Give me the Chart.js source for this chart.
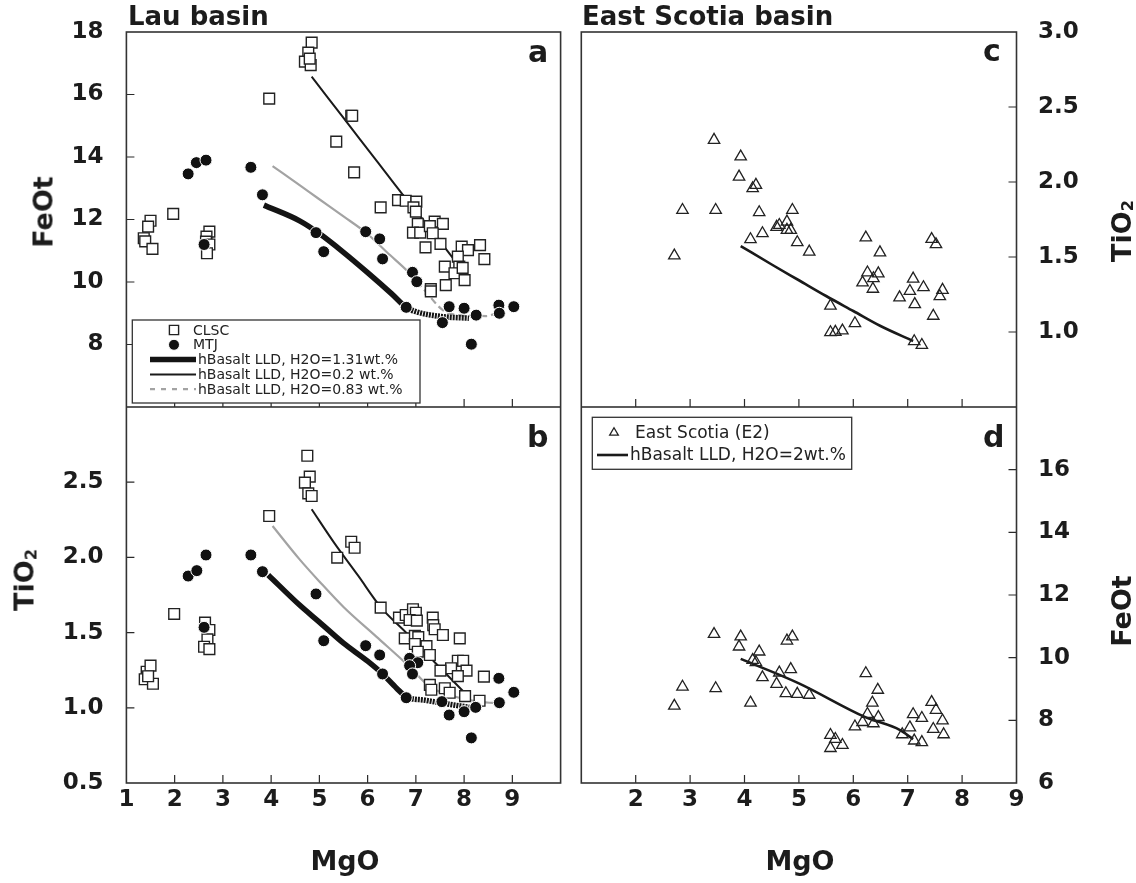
<!DOCTYPE html>
<html>
<head>
<meta charset="utf-8">
<title>Lau basin / East Scotia basin</title>
<script src="https://cdn.jsdelivr.net/npm/chart.js@4.4.1/dist/chart.umd.min.js"></script>
<style>
  body { margin: 0; background: #fff; }
  #page { position: relative; width: 1136px; height: 883px; overflow: hidden;
          font-family: "DejaVu Sans", Verdana, sans-serif; color: #1c1c1c; }
  #page canvas { position: absolute; }
  .txt { position: absolute; font-weight: bold; line-height: 1; white-space: nowrap; }
  .rot { transform: translate(-50%, -50%) rotate(-90deg); }
  .ctr { transform: translate(-50%, -50%); }
  .txt sub { font-size: 60%; vertical-align: -0.18em; line-height: 0; }
</style>
</head>
<body>
<div id="page">
  <canvas id="panelA" width="570" height="407" style="left:0;top:0"></canvas>
  <canvas id="panelB" width="570" height="476" style="left:0;top:407px"></canvas>
  <canvas id="panelC" width="566" height="407" style="left:570px;top:0"></canvas>
  <canvas id="panelD" width="566" height="476" style="left:570px;top:407px"></canvas>

  <div class="txt" style="left:128px;top:3px;font-size:26px">Lau basin</div>
  <div class="txt" style="left:582px;top:3px;font-size:26px">East Scotia basin</div>

  <div class="txt" style="left:528px;top:37px;font-size:30px">a</div>
  <div class="txt" style="left:527px;top:422px;font-size:30px">b</div>
  <div class="txt" style="left:983px;top:36px;font-size:30px">c</div>
  <div class="txt" style="left:983px;top:422px;font-size:30px">d</div>

  <div class="txt rot" style="left:43px;top:212px;font-size:27px">FeOt</div>
  <div class="txt rot" style="left:24px;top:580px;font-size:27px">TiO<sub>2</sub></div>
  <div class="txt rot" style="left:1121px;top:231px;font-size:27px">TiO<sub>2</sub></div>
  <div class="txt rot" style="left:1121px;top:611px;font-size:27px">FeOt</div>
  <div class="txt ctr" style="left:345px;top:860px;font-size:27px">MgO</div>
  <div class="txt ctr" style="left:800px;top:860px;font-size:27px">MgO</div>
</div>

<script>
// ---- data: [MgO, value] ----
// (a) Lau basin, FeOt
const clscFeOt = [
  [4.84, 17.66], [4.77, 17.34], [4.70, 17.05], [4.82, 16.94], [4.80, 17.15],
  [3.96, 15.87], [5.66, 15.32], [5.68, 15.32], [5.35, 14.49], [5.72, 13.51],
  [6.27, 12.39], [6.63, 12.62], [6.79, 12.60], [7.01, 12.57], [6.95, 12.39],
  [7.00, 12.25], [7.04, 11.86], [6.94, 11.58], [7.09, 11.58], [7.39, 11.93],
  [7.56, 11.86], [7.29, 11.79], [7.35, 11.56], [7.20, 11.11], [7.51, 11.22],
  [7.95, 11.13], [8.08, 11.02], [8.33, 11.18], [8.42, 10.73], [7.87, 10.81],
  [7.60, 10.49], [7.90, 10.49], [7.80, 10.28], [7.97, 10.45], [8.01, 10.06],
  [7.62, 9.90], [7.31, 9.77], [7.31, 9.70],
  [1.50, 11.96], [1.97, 12.18], [1.45, 11.77], [1.36, 11.40], [1.39, 11.30],
  [1.54, 11.06], [2.72, 11.61], [2.66, 11.45], [2.65, 11.29], [2.72, 11.20], [2.67, 10.92]
];
const mtjFeOt = [
  [2.28, 13.46], [2.45, 13.82], [2.65, 13.90], [3.58, 13.67], [3.82, 12.79], [2.61, 11.20],
  [4.93, 11.58], [5.09, 10.97], [5.96, 11.61], [6.25, 11.38], [6.31, 10.74], [6.93, 10.31],
  [7.02, 10.01], [6.80, 9.19], [7.69, 9.21], [8.00, 9.16], [7.55, 8.70], [8.25, 8.94],
  [8.15, 8.01], [8.72, 9.26], [8.73, 9.00], [9.03, 9.21]
];
const lld131FeOt = [
  [3.85, 12.46], [4.6, 11.95], [5.0, 11.55], [5.5, 10.95], [6.0, 10.3], [6.5, 9.62],
  [6.8, 9.19], [7.0, 9.05], [7.5, 8.9], [8.1, 8.84]
];
const lld02FeOt = [
  [4.84, 16.57], [5.5, 15.25], [6.2, 13.85], [6.75, 12.75], [7.2, 11.9], [7.85, 10.6]
];
const lld083FeOt = [
  [4.03, 13.71], [4.59, 13.1], [4.97, 12.68], [5.5, 12.1], [5.98, 11.56], [6.4, 10.95],
  [6.87, 10.28], [7.2, 9.7], [7.56, 9.1], [7.87, 8.94], [8.2, 8.92], [8.46, 8.91], [8.73, 9.05]
];

// (b) Lau basin, TiO2
const clscTiO2 = [
  [4.75, 2.676], [4.80, 2.537], [4.70, 2.497], [4.77, 2.426], [4.84, 2.408], [3.96, 2.275],
  [5.66, 2.104], [5.73, 2.064], [5.37, 1.998], [1.99, 1.624], [2.63, 1.566], [2.72, 1.517],
  [2.68, 1.455], [2.61, 1.406], [2.72, 1.390], [1.42, 1.24], [1.50, 1.28], [1.38, 1.19],
  [1.55, 1.16], [1.45, 1.21],
  [6.27, 1.666], [6.65, 1.600], [6.79, 1.617], [6.94, 1.655], [7.00, 1.632], [6.87, 1.584],
  [7.02, 1.580], [7.35, 1.600], [7.36, 1.550], [7.39, 1.522], [7.56, 1.484], [7.91, 1.462],
  [6.77, 1.462], [6.98, 1.478], [7.05, 1.470], [6.98, 1.424], [7.22, 1.410], [7.04, 1.373],
  [7.29, 1.351], [7.87, 1.313], [7.98, 1.313], [7.73, 1.263], [8.05, 1.247], [7.87, 1.211],
  [7.51, 1.247], [8.41, 1.207], [7.29, 1.152], [7.32, 1.120], [7.60, 1.130], [7.70, 1.100],
  [8.02, 1.078], [8.32, 1.047]
];
const mtjTiO2 = [
  [2.28, 1.876], [2.46, 1.912], [2.65, 2.016], [3.58, 2.016], [3.82, 1.905], [2.61, 1.535],
  [4.93, 1.757], [5.09, 1.446], [5.96, 1.413], [6.25, 1.351], [6.31, 1.225], [6.87, 1.329],
  [7.04, 1.300], [6.87, 1.280], [6.93, 1.225], [6.80, 1.067], [7.54, 1.041], [7.69, 0.952],
  [8.00, 0.974], [8.24, 1.003], [8.15, 0.800], [8.72, 1.196], [8.73, 1.034], [9.03, 1.103]
];
const lld131TiO2 = [
  [3.94, 1.883], [4.59, 1.683], [5.0, 1.57], [5.5, 1.43], [6.0, 1.31], [6.31, 1.225],
  [6.6, 1.13], [6.8, 1.074], [7.2, 1.05], [7.56, 1.03], [8.11, 1.003]
];
const lld02TiO2 = [
  [4.84, 2.32], [5.3, 2.1], [5.8, 1.88], [6.27, 1.67], [6.8, 1.50], [7.4, 1.30], [7.98, 1.11]
];
const lld083TiO2 = [
  [4.03, 2.209], [4.59, 1.987], [5.0, 1.84], [5.5, 1.67], [6.18, 1.473], [6.87, 1.273],
  [7.29, 1.14], [7.77, 1.078], [8.32, 1.04], [8.77, 1.03]
];

// (c) East Scotia, TiO2
const e2TiO2 = [
  [3.44, 2.280], [3.93, 2.169], [3.90, 2.035], [4.21, 1.980], [4.15, 1.958], [2.86, 1.813],
  [3.47, 1.813], [4.27, 1.798], [4.88, 1.813], [4.64, 1.713], [4.78, 1.735], [4.59, 1.700],
  [4.78, 1.680], [4.85, 1.680], [4.33, 1.658], [4.11, 1.618], [4.97, 1.598], [5.19, 1.535],
  [2.71, 1.509], [6.23, 1.629], [6.49, 1.530], [6.26, 1.396], [6.46, 1.390], [6.17, 1.329],
  [6.37, 1.358], [6.36, 1.287], [5.58, 1.175], [6.03, 1.058], [5.58, 0.998], [5.67, 1.000],
  [5.80, 1.009], [7.44, 1.619], [7.52, 1.584], [7.10, 1.355], [7.04, 1.273], [7.13, 1.185],
  [7.29, 1.298], [7.64, 1.280], [7.59, 1.238], [7.47, 1.107], [7.12, 0.938], [7.26, 0.913],
  [6.85, 1.230]
];
const lld2TiO2 = [
  [3.93, 1.573], [4.5, 1.45], [5.0, 1.345], [5.5, 1.24], [6.0, 1.14], [6.5, 1.04], [7.1, 0.94]
];

// (d) East Scotia, FeOt
const e2FeOt = [
  [3.44, 10.75], [3.93, 10.67], [3.90, 10.35], [4.88, 10.67], [4.78, 10.54], [4.27, 10.19],
  [4.15, 9.92], [4.21, 9.85], [4.64, 9.52], [4.85, 9.63], [4.33, 9.37], [4.59, 9.16],
  [2.86, 9.07], [3.47, 9.02], [4.76, 8.86], [4.97, 8.84], [5.19, 8.81], [4.11, 8.56],
  [2.71, 8.46], [6.23, 9.50], [6.45, 8.97], [6.35, 8.56], [6.46, 8.10], [6.26, 8.20],
  [6.17, 7.94], [6.03, 7.80], [6.37, 7.90], [5.58, 7.53], [5.67, 7.40], [5.80, 7.21],
  [5.58, 7.11], [7.44, 8.58], [7.52, 8.33], [7.10, 8.19], [7.26, 8.07], [7.04, 7.77],
  [7.64, 7.99], [7.47, 7.72], [7.66, 7.55], [7.12, 7.35], [7.26, 7.30], [6.90, 7.55]
];
const lld2FeOt = [
  [3.93, 9.96], [5.0, 9.18], [6.21, 8.11], [6.86, 7.69], [7.1, 7.4]
];

const ink = '#1c1c1c';
const tickFont = { family: 'DejaVu Sans', size: 23, weight: 'bold' };

const pts = arr => arr.map(([x, y]) => ({ x, y }));

// ---- plugins: box frame with inward ticks, boxed legend ----
const framePlugin = {
  id: 'frame',
  afterDatasetsDraw(chart, args, opts) {
    const { ctx, chartArea: a, scales: { x, y } } = chart;
    const eps = 1e-6;
    ctx.save();
    ctx.strokeStyle = '#2a2a2a';
    ctx.lineWidth = 1.2;
    ctx.beginPath();
    x.ticks.forEach(t => {
      if (t.value <= x.min + eps || t.value >= x.max - eps) return;
      const px = x.getPixelForValue(t.value);
      ctx.moveTo(px, a.bottom);
      ctx.lineTo(px, a.bottom - 8);
    });
    const x0 = opts.side === 'right' ? a.right : a.left;
    const dir = opts.side === 'right' ? -1 : 1;
    y.ticks.forEach(t => {
      if (t.value <= y.min + eps || t.value >= y.max - eps) return;
      const py = y.getPixelForValue(t.value);
      ctx.moveTo(x0, py);
      ctx.lineTo(x0 + 8 * dir, py);
    });
    ctx.stroke();
    ctx.strokeStyle = '#333';
    ctx.lineWidth = 1.6;
    ctx.strokeRect(a.left, a.top, a.right - a.left, a.bottom - a.top);
    ctx.restore();
  }
};

const boxLegend = {
  id: 'boxLegend',
  afterDraw(chart, args, o) {
    if (!o.items) return;
    const { ctx, chartArea: a } = chart;
    const bx = a.left + o.box[0], by = a.top + o.box[1];
    ctx.save();
    ctx.fillStyle = '#fff';
    ctx.fillRect(bx, by, o.box[2], o.box[3]);
    ctx.strokeStyle = '#333';
    ctx.lineWidth = 1.3;
    ctx.strokeRect(bx, by, o.box[2], o.box[3]);
    ctx.font = o.font;
    ctx.textBaseline = 'middle';
    o.items.forEach((it, i) => {
      const ds = chart.data.datasets[it.ds];
      const yy = by + o.rowTop + i * o.rowGap;
      if (ds.showLine) {
        ctx.strokeStyle = ds.borderColor;
        ctx.lineWidth = ds.borderWidth;
        ctx.setLineDash(it.dash || []);
        ctx.beginPath();
        ctx.moveTo(bx + o.line[0], yy);
        ctx.lineTo(bx + o.line[1], yy);
        ctx.stroke();
        ctx.setLineDash([]);
      } else {
        ctx.fillStyle = ds.pointBackgroundColor;
        ctx.strokeStyle = ds.pointBorderColor;
        ctx.lineWidth = ds.pointBorderWidth;
        Chart.helpers.drawPoint(ctx, {
          pointStyle: ds.pointStyle, rotation: 0,
          radius: it.r || ds.pointRadius, borderWidth: ds.pointBorderWidth
        }, bx + o.mark, yy);
      }
      ctx.fillStyle = '#222';
      ctx.fillText(ds.label, bx + (ds.showLine ? o.lineText : o.markText), yy + 1);
    });
    ctx.restore();
  }
};

Chart.register(framePlugin, boxLegend);

// ---- dataset styles ----
const squares = (label, d) => ({
  label, data: pts(d), pointStyle: 'rect', pointRadius: 7.6,
  pointBackgroundColor: '#fff', pointBorderColor: '#222', pointBorderWidth: 1.4
});
const dots = (label, d) => ({
  label, data: pts(d), pointStyle: 'circle', pointRadius: 6,
  pointBackgroundColor: '#111', pointBorderColor: '#fff', pointBorderWidth: 1
});
const triangles = (label, d) => ({
  label, data: pts(d), pointStyle: 'triangle', pointRadius: 6.6,
  pointBackgroundColor: 'rgba(0,0,0,0)', pointBorderColor: '#222', pointBorderWidth: 1.3
});
const lld = (label, d, color, width, segment) => ({
  label, data: pts(d), showLine: true, pointRadius: 0, borderColor: color,
  borderWidth: width, cubicInterpolationMode: 'monotone', segment: segment || {}
});
const dashFrom = (x, dash) => ({ borderDash: c => (c.p0.parsed.x >= x ? dash : undefined) });

function panelOptions(p) {
  const zeroPad = s => { s.paddingTop = 0; s.paddingBottom = 0; s.paddingLeft = 0; s.paddingRight = 0; };
  return {
    responsive: false,
    animation: false,
    events: [],
    layout: { padding: p.padding, autoPadding: false },
    plugins: {
      legend: { display: false },
      tooltip: { enabled: false },
      frame: { side: p.ySide },
      boxLegend: p.legend || {}
    },
    scales: {
      x: {
        type: 'linear', min: p.xMin, max: p.xMax,
        grid: { display: false, drawTicks: false }, border: { display: false },
        ticks: {
          display: p.showX, stepSize: 1, autoSkip: false, maxRotation: 0,
          padding: 3, font: tickFont, color: ink,
          callback: v => (v === p.xHide ? '' : String(v))
        },
        afterFit: s => { s.height = p.xHeight; zeroPad(s); }
      },
      y: {
        type: 'linear', position: p.ySide, min: p.yMin, max: p.yMax,
        grid: { display: false, drawTicks: false }, border: { display: false },
        ticks: {
          stepSize: p.yStep, autoSkip: false, padding: p.yPad, font: tickFont, color: ink,
          callback: v => (Math.abs(v - p.yHide) < 1e-6 ? '' : v.toFixed(p.yDec))
        },
        afterFit: s => { s.width = p.yWidth; zeroPad(s); }
      }
    }
  };
}

const legendA = {
  box: [5.9, 288, 287.7, 83], font: '14px "DejaVu Sans"',
  rowTop: 10, rowGap: 14.8, mark: 41.7, markText: 60.7, line: [17.7, 63.7], lineText: 65.7,
  items: [{ ds: 1, r: 6.5 }, { ds: 0, r: 5.5 }, { ds: 2 }, { ds: 3 }, { ds: 4, dash: [5, 6] }]
};
const legendD = {
  box: [11, 10.3, 259.4, 52], font: '17px "DejaVu Sans"',
  rowTop: 15.4, rowGap: 22.3, mark: 21.7, markText: 42.7, line: [4.7, 35.7], lineText: 37.7,
  items: [{ ds: 0, r: 5 }, { ds: 1 }]
};

new Chart(document.getElementById('panelA'), {
  type: 'scatter',
  data: { datasets: [
    dots('MTJ', mtjFeOt),
    squares('CLSC', clscFeOt),
    lld('hBasalt LLD, H2O=1.31wt.%', lld131FeOt, '#141414', 5.5, dashFrom(6.8, [2, 1])),
    lld('hBasalt LLD, H2O=0.2 wt.%', lld02FeOt, '#1a1a1a', 2),
    lld('hBasalt LLD, H2O=0.83 wt.%', lld083FeOt, '#a3a3a3', 2.2, dashFrom(6.87, [7, 4]))
  ] },
  options: panelOptions({
    padding: { left: 0, right: 9.4, top: 32, bottom: 0 },
    xMin: 1, xMax: 10, showX: false, xHeight: 0,
    ySide: 'left', yMin: 6, yMax: 18, yStep: 2, yHide: 6, yDec: 0, yPad: 23, yWidth: 126.4,
    legend: legendA
  })
});

new Chart(document.getElementById('panelB'), {
  type: 'scatter',
  data: { datasets: [
    dots('MTJ', mtjTiO2),
    squares('CLSC', clscTiO2),
    lld('hBasalt LLD, H2O=1.31wt.%', lld131TiO2, '#141414', 5.5, dashFrom(6.8, [2, 1])),
    lld('hBasalt LLD, H2O=0.2 wt.%', lld02TiO2, '#1a1a1a', 2),
    lld('hBasalt LLD, H2O=0.83 wt.%', lld083TiO2, '#a3a3a3', 2.2)
  ] },
  options: panelOptions({
    padding: { left: 0, right: 9.4, top: 0, bottom: 0 },
    xMin: 1, xMax: 10, showX: true, xHide: 10, xHeight: 100,
    ySide: 'left', yMin: 0.5, yMax: 3, yStep: 0.5, yHide: 3, yDec: 1, yPad: 23, yWidth: 126.4
  })
});

new Chart(document.getElementById('panelC'), {
  type: 'scatter',
  data: { datasets: [
    triangles('East Scotia (E2)', e2TiO2),
    lld('hBasalt LLD, H2O=2wt.%', lld2TiO2, '#1a1a1a', 2.6)
  ] },
  options: panelOptions({
    padding: { left: 11.3, right: 0, top: 32, bottom: 0 },
    xMin: 1, xMax: 9, showX: false, xHeight: 0,
    ySide: 'right', yMin: 0.5, yMax: 3, yStep: 0.5, yHide: 0.5, yDec: 1, yPad: 21.5, yWidth: 119.5
  })
});

new Chart(document.getElementById('panelD'), {
  type: 'scatter',
  data: { datasets: [
    triangles('East Scotia (E2)', e2FeOt),
    lld('hBasalt LLD, H2O=2wt.%', lld2FeOt, '#1a1a1a', 2.6)
  ] },
  options: panelOptions({
    padding: { left: 11.3, right: 0, top: 0, bottom: 0 },
    xMin: 1, xMax: 9, showX: true, xHide: 1, xHeight: 100,
    ySide: 'right', yMin: 6, yMax: 18, yStep: 2, yHide: 18, yDec: 0, yPad: 21.5, yWidth: 119.5,
    legend: legendD
  })
});
</script>
</body>
</html>
